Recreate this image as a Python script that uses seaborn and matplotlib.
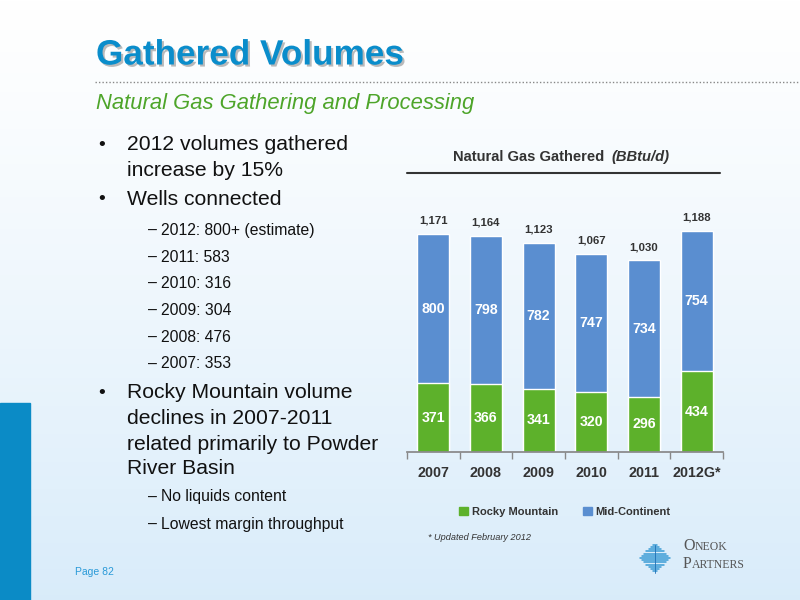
import matplotlib.pyplot as plt
import matplotlib.patheffects as pe
from matplotlib.lines import Line2D
from matplotlib.patches import Patch
import numpy as np
import seaborn as sns

# Chart data (BBtu/d)
years = ["2007", "2008", "2009", "2010", "2011", "2012G*"]
rocky_mountain = [371, 366, 341, 320, 296, 434]
mid_continent = [800, 798, 782, 747, 734, 754]
totals = [r + m for r, m in zip(rocky_mountain, mid_continent)]

# Slide bullet text
bullets = [
    ("bullet", "2012 volumes gathered", 145),
    ("cont", "increase by 15%", 170),
    ("bullet", "Wells connected", 200),
    ("sub", "2012: 800+ (estimate)", 230),
    ("sub", "2011: 583", 257),
    ("sub", "2010: 316", 283),
    ("sub", "2009: 304", 310),
    ("sub", "2008: 476", 337),
    ("sub", "2007: 353", 364),
    ("bullet", "Rocky Mountain volume", 393),
    ("cont", "declines in 2007-2011", 418),
    ("cont", "related primarily to Powder", 445),
    ("cont", "River Basin", 469),
    ("sub", "No liquids content", 497),
    ("sub", "Lowest margin throughput", 524),
]

GREEN = "#5DB12B"
BLUE = "#5A8ED0"
TITLE_BLUE = "#0A8DCB"
NARROW = ["Liberation Sans Narrow", "Liberation Sans", "DejaVu Sans"]
SANS = ["Liberation Sans", "DejaVu Sans"]
SERIF = ["Liberation Serif", "DejaVu Serif"]

sns.set_theme(style="white")
plt.rcParams["font.family"] = SANS

fig = plt.figure(figsize=(8, 6), dpi=100)


def fx(px):
    return px / 800


def fy(py):
    return 1 - py / 600


# background gradient
bg = fig.add_axes([0, 0, 1, 1], zorder=-10)
grad = np.linspace(0, 1, 256).reshape(-1, 1)
top = np.array([1.0, 1.0, 1.0])
bottom = np.array([0.85, 0.925, 0.98])
img = top + (bottom - top) * grad[..., None] ** 1.2
bg.imshow(img, aspect="auto", extent=[0, 1, 0, 1])
bg.add_patch(plt.Rectangle((0, 0), fx(30), fy(403), color="#0B8BC6"))
bg.set_xlim(0, 1)
bg.set_ylim(0, 1)
bg.axis("off")

# slide title
fig.text(fx(96), fy(55), "Gathered Volumes", fontsize=25.3, fontweight="bold",
         color=TITLE_BLUE, va="center", family=SANS,
         path_effects=[pe.withSimplePatchShadow(offset=(1.5, -1.5), shadow_rgbFace="#777777", alpha=0.5)])
fig.add_artist(Line2D([fx(95), fx(800)], [fy(82), fy(82)], color="#888888",
                      lw=1, ls=(0, (1, 1.5))))
fig.text(fx(96), fy(103), "Natural Gas Gathering and Processing", fontsize=15.8,
         style="italic", color="#4EA52A", va="center", family=SANS)

# bullet list
for kind, text, y in bullets:
    if kind == "bullet":
        fig.text(fx(98), fy(y), "\u2022", fontsize=14, va="center", color="#111111")
        fig.text(fx(127), fy(y), text, fontsize=15.2, va="center", color="#111111")
    elif kind == "cont":
        fig.text(fx(127), fy(y), text, fontsize=15.2, va="center", color="#111111")
    else:
        fig.text(fx(148), fy(y), "\u2013", fontsize=11.5, va="center", color="#111111")
        fig.text(fx(161), fy(y), text, fontsize=11.3, va="center", color="#111111",
                 family=NARROW)

# chart
ax = fig.add_axes([fx(407), fy(452), fx(723) - fx(407), (452 - 200) / 600])
ax.patch.set_alpha(0)
sns.barplot(x=years, y=totals, color=BLUE, saturation=1, width=0.61, ax=ax)
sns.barplot(x=years, y=rocky_mountain, color=GREEN, saturation=1, width=0.61, ax=ax)
ax.set_xlim(-0.5, len(years) - 0.5)
ax.set_ylim(0, 1355)

ax.bar_label(ax.containers[0], labels=[f"{v:,}" for v in totals], padding=6,
             fontsize=8.2, color="#333333", fontweight="bold", family=NARROW)
for i, (r, m) in enumerate(zip(rocky_mountain, mid_continent)):
    ax.text(i, r / 2, f"{r}", ha="center", va="center", color="white",
            fontsize=10.2, fontweight="bold", family=NARROW)
    ax.text(i, r + m / 2, f"{m}", ha="center", va="center", color="white",
            fontsize=10.2, fontweight="bold", family=NARROW)

sns.despine(ax=ax, left=True)
ax.spines["bottom"].set_color("#888888")
ax.set_yticks([])
ax.set_xticks(range(len(years)))
ax.set_xticklabels(years, fontsize=10.3, fontweight="bold", color="#333333", family=NARROW)
ax.set_xticks(np.arange(-0.5, len(years)), minor=True)
ax.tick_params(axis="x", which="major", length=0, pad=10)
ax.tick_params(axis="x", which="minor", length=5, color="#888888", direction="out",
               bottom=True)
ax.set_xlabel("")
ax.set_ylabel("")
ax.grid(False)

# chart title
fig.text(fx(608), fy(157), "Natural Gas Gathered ", ha="right", va="center",
         fontsize=10.6, fontweight="bold", color="#333333", family=NARROW)
fig.text(fx(611), fy(157), "(BBtu/d)", ha="left", va="center", fontsize=10.6,
         fontweight="bold", style="italic", color="#333333", family=NARROW)
fig.add_artist(Line2D([fx(407), fx(720)], [fy(173), fy(173)], color="#333333", lw=1.5))

# legend
handles = [Patch(color=GREEN, label="Rocky Mountain"),
           Patch(color=BLUE, label="Mid-Continent")]
fig.legend(handles=handles, loc="center", bbox_to_anchor=(fx(565), fy(512)), ncol=2,
           frameon=False, handlelength=0.8, handleheight=0.8, handletextpad=0.3,
           columnspacing=2.3, prop={"family": NARROW, "weight": "bold", "size": 8},
           labelcolor="#333333")

fig.text(fx(428), fy(538), "* Updated February 2012", fontsize=6.6, style="italic",
         color="#333333", va="center", family=NARROW)

fig.text(fx(75), fy(572), "Page 82", fontsize=7.5, color="#2A9AD8", va="center")

# logo
for k in range(-6, 7):
    half = 15 * (1 - abs(k) / 7)
    fig.add_artist(Line2D([fx(655 - half), fx(655 + half)], [fy(558 + k * 2.2)] * 2,
                          color="#3A9BD5", lw=1.1))
fig.add_artist(Line2D([fx(655), fx(655)], [fy(545), fy(573)], color="#1F6FB5", lw=0.6))
fig.text(fx(683), fy(550), "O", fontsize=11.5, color="#555555", va="baseline", family=SERIF)
fig.text(fx(695), fy(550), "NEOK", fontsize=8.5, color="#555555", va="baseline", family=SERIF)
fig.text(fx(683), fy(568), "P", fontsize=11.5, color="#555555", va="baseline", family=SERIF)
fig.text(fx(692), fy(568), "ARTNERS", fontsize=8.5, color="#555555", va="baseline", family=SERIF)

fig.savefig("out.png", dpi=100)
